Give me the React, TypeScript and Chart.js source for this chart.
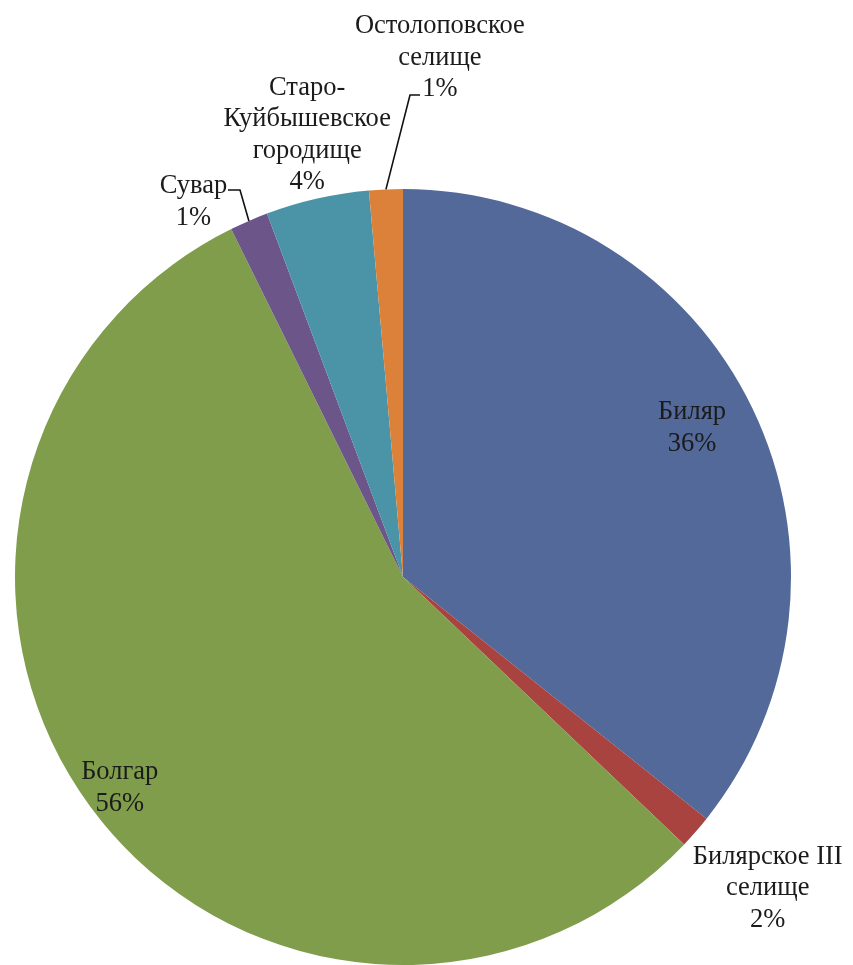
import React, { useEffect, useRef } from "react";
import { Chart, registerables } from "chart.js";

Chart.register(...registerables);

const categories: string[][] = [
  ["Биляр"],
  ["Билярское III", "селище"],
  ["Болгар"],
  ["Сувар"],
  ["Старо-", "Куйбышевское", "городище"],
  ["Остолоповское", "селище"],
];
const values: number[] = [35.7, 1.4, 55.6, 1.6, 4.3, 1.4];
const percentLabels: string[] = ["36%", "2%", "56%", "1%", "4%", "1%"];
const colors: string[] = ["#53699A", "#A8433F", "#7F9D4B", "#6C5689", "#4B93A7", "#DC8139"];

// label block centres relative to pie centre, in units of radius
const labelCenters: [number, number][] = [
  [0.745, -0.384],
  [0.94, 0.802],
  [-0.73, 0.544],
  [-0.54, -0.967],
  [-0.247, -1.139],
  [0.095, -1.338],
];
// leader lines: [elbowStart, elbow] offsets in px from pie centre (null = none)
const leaders: ([number, number][] | null)[] = [
  null,
  null,
  null,
  [[-175, -387], [-163, -387]],
  null,
  [[17, -482], [7, -482]],
];

const labelPlugin = {
  id: "pieLabels",
  afterDatasetsDraw(chart: any) {
    const ctx = chart.ctx;
    const meta = chart.getDatasetMeta(0);
    ctx.save();
    ctx.font = '26.5px "Liberation Serif", "Times New Roman", serif';
    ctx.fillStyle = "#1b1b1b";
    ctx.textAlign = "center";
    ctx.textBaseline = "middle";
    const lh = 31.5;
    meta.data.forEach((arc: any, i: number) => {
      const { x, y, outerRadius, startAngle, endAngle } = arc.getProps(
        ["x", "y", "outerRadius", "startAngle", "endAngle"],
        true
      );
      const r = outerRadius;
      const lines = [...categories[i], percentLabels[i]];
      const cx = x + labelCenters[i][0] * r;
      const cy = y + labelCenters[i][1] * r;
      const top = cy - ((lines.length - 1) * lh) / 2;
      lines.forEach((t, k) => ctx.fillText(t, cx, top + k * lh));
      const ld = leaders[i];
      if (ld) {
        const mid = (startAngle + endAngle) / 2;
        const ex = x + Math.cos(mid) * r;
        const ey = y + Math.sin(mid) * r;
        ctx.beginPath();
        ctx.strokeStyle = "#111";
        ctx.lineWidth = 1.6;
        ctx.moveTo(x + ld[0][0], y + ld[0][1]);
        ctx.lineTo(x + ld[1][0], y + ld[1][1]);
        ctx.lineTo(ex, ey);
        ctx.stroke();
      }
    });
    ctx.restore();
  },
};

export default function App() {
  const ref = useRef<HTMLCanvasElement>(null);
  useEffect(() => {
    document.body.style.margin = "0";
    const chart = new Chart(ref.current!, {
      type: "pie",
      data: {
        labels: categories.map((c) => c.join(" ")),
        datasets: [
          {
            data: values,
            backgroundColor: colors,
            borderWidth: 0,
          },
        ],
      },
      options: {
        animation: false,
        responsive: false,
        maintainAspectRatio: false,
        layout: { padding: { left: 15, right: 62, top: 189, bottom: 0 } },
        plugins: {
          legend: { display: false },
          tooltip: { enabled: false },
        },
      },
      plugins: [labelPlugin],
    });
    return () => chart.destroy();
  }, []);
  return (
    <div style={{ width: 853, height: 965, background: "#fff" }}>
      <canvas ref={ref} width={853} height={965} style={{ display: "block" }} />
    </div>
  );
}
